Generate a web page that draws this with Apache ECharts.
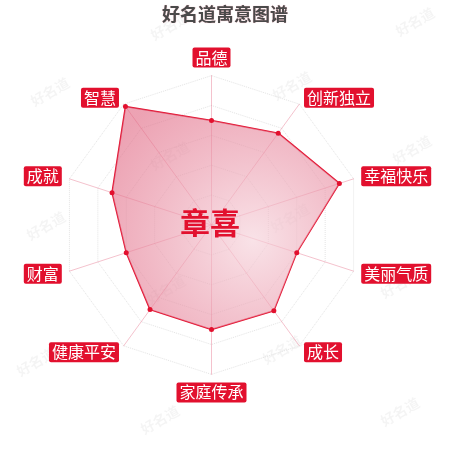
<!DOCTYPE html>
<html>
<head>
<meta charset="utf-8">
<script src="https://cdn.jsdelivr.net/npm/echarts@6/dist/echarts.min.js"></script>
<style>
  html, body { margin: 0; padding: 0; background: #fff; }
  #main { width: 450px; height: 450px; }
</style>
</head>
<body>
<div id="main"></div>
<script>
// indicators in counterclockwise order, starting from the top
const names = ['品德', '智慧', '成就', '财富', '健康平安', '家庭传承', '成长', '美丽气质', '幸福快乐', '创新独立'];
const values = [70, 98, 70, 60, 70, 70, 71, 60, 90, 76];
const maxValue = 100;
const personName = '章喜';

const red = '#e2102e';
const chart = echarts.init(document.getElementById('main'));

// faint watermark tiles
const marks = [
  [170, 26], [415, 22], [50, 92], [292, 86], [170, 156], [412, 150],
  [46, 226], [290, 218], [166, 290], [400, 284], [36, 362], [282, 350],
  [160, 420], [400, 412]
];
const watermark = marks.map(function (p) {
  return {
    type: 'text',
    x: p[0], y: p[1],
    rotation: Math.PI / 6,
    z: 0,
    style: {
      text: '好名道',
      fill: 'rgba(0,0,0,0.045)',
      font: 'bold 14px "Noto Sans CJK SC"',
      textAlign: 'center',
      textVerticalAlign: 'middle'
    }
  };
});

const option = {
  backgroundColor: '#fff',
  title: {
    text: '好名道寓意图谱',
    left: 'center',
    top: 0,
    textStyle: {
      fontFamily: 'Noto Sans CJK SC',
      fontSize: 18,
      fontWeight: 'bold',
      color: '#4a4a4a',
      textShadowColor: 'rgba(230,110,130,0.6)',
      textShadowBlur: 1
    }
  },
  radar: {
    center: ['47%', '50%'],
    radius: '66.4%',
    startAngle: 90,
    splitNumber: 5,
    shape: 'polygon',
    nameGap: 8,
    indicator: names.map(function (n) { return { name: n, max: maxValue }; }),
    axisName: {
      color: '#fff',
      backgroundColor: red,
      fontFamily: 'Noto Sans CJK SC',
      fontSize: 16,
      padding: [2, 3],
      borderRadius: 2
    },
    axisLine: { lineStyle: { color: 'rgba(230,120,145,0.45)', width: 1 } },
    splitLine: { lineStyle: { color: '#e4e4e4', type: 'dotted', width: 1 } },
    splitArea: { show: false }
  },
  series: [{
    type: 'radar',
    symbol: 'circle',
    symbolSize: 5,
    itemStyle: { color: red },
    lineStyle: { color: red, width: 1.5 },
    areaStyle: {
      color: new echarts.graphic.RadialGradient(0.62, 0.6, 0.75, [
        { offset: 0, color: 'rgba(246,212,220,0.95)' },
        { offset: 1, color: 'rgba(224,100,128,0.85)' }
      ])
    },
    data: [{ value: values, name: personName }]
  }],
  graphic: watermark.concat([{
    type: 'text',
    x: 210,
    y: 223,
    z: 100,
    style: {
      text: personName,
      fill: red,
      font: 'bold 30px "Noto Sans CJK SC"',
      textAlign: 'center',
      textVerticalAlign: 'middle'
    }
  }])
};

chart.setOption(option);
</script>
</body>
</html>
